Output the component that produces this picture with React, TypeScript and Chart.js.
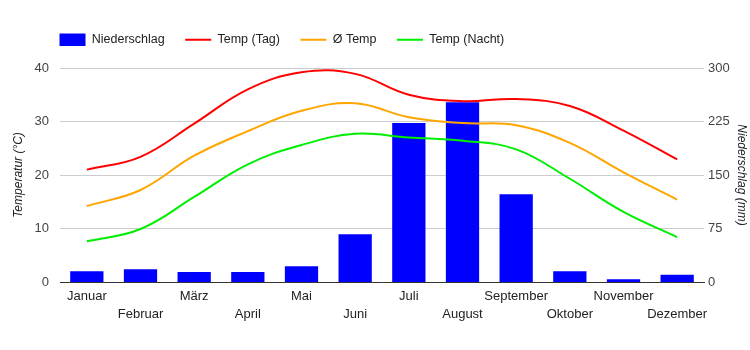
import React, { useEffect, useRef } from 'react';
import { Chart, registerables } from 'chart.js';

Chart.register(...registerables);

const months = ['Januar', 'Februar', 'März', 'April', 'Mai', 'Juni', 'Juli', 'August', 'September', 'Oktober', 'November', 'Dezember'];
const precipitation = [15, 18, 14, 14, 22, 67, 223, 252, 123, 15, 4, 10];
const tempDay = [21, 23.4, 29.6, 36, 39.2, 38.9, 35, 33.8, 34.2, 32.9, 28.3, 22.9];
const tempAvg = [14.2, 17.2, 23.6, 28.2, 32, 33.4, 30.8, 29.7, 29.3, 26, 20.5, 15.4];
const tempNight = [7.6, 9.9, 15.9, 22, 25.6, 27.7, 27, 26.4, 24.8, 19.3, 13.1, 8.4];
const tempTicks = [0, 10, 20, 30, 40];
const rainTicks = [0, 75, 150, 225, 300];

const FONT = 'Arial, "Liberation Sans", sans-serif';

const legendShift = {
  id: 'legendShift',
  beforeLayout(chart: any) {
    const lg = chart.legend;
    if (lg && !lg._patched) {
      const orig = lg.fit.bind(lg);
      lg.fit = function () {
        orig();
        this.height += 12;
      };
      lg._patched = true;
    }
  },
  afterLayout(chart: any) {
    if (chart.legend) {
      chart.legend.left += 39;
    }
  },
};

export default function App() {
  const ref = useRef<HTMLCanvasElement | null>(null);

  useEffect(() => {
    if (!ref.current) return;
    Chart.defaults.font.family = FONT;
    const lineBase = {
      type: 'line' as const,
      yAxisID: 'y',
      borderWidth: 2,
      pointRadius: 0,
      tension: 0.4,
      fill: false,
      order: 0,
    };
    const chart = new Chart(ref.current, {
      type: 'bar',
      data: {
        labels: months,
        datasets: [
          {
            type: 'bar',
            label: 'Niederschlag',
            data: precipitation,
            backgroundColor: '#0000ff',
            borderWidth: 0,
            yAxisID: 'y1',
            barPercentage: 0.62,
            categoryPercentage: 1,
            order: 1,
          } as any,
          { ...lineBase, label: 'Temp (Tag)', data: tempDay, borderColor: '#ff0000', backgroundColor: '#ff0000' },
          { ...lineBase, label: 'Ø Temp', data: tempAvg, borderColor: '#ffa500', backgroundColor: '#ffa500' },
          { ...lineBase, label: 'Temp (Nacht)', data: tempNight, borderColor: '#00ee00', backgroundColor: '#00ee00' },
        ],
      },
      options: {
        animation: false,
        responsive: true,
        maintainAspectRatio: false,
        layout: { padding: { top: 13, left: 0, right: 0, bottom: 0 } },
        plugins: {
          tooltip: { enabled: false },
          legend: {
            position: 'top',
            align: 'start',
            labels: {
              usePointStyle: true,
              pointStyleWidth: 26,
              boxHeight: 13,
              padding: 20.5,
              color: '#222',
              font: { size: 12.5, family: FONT },
              generateLabels(chart: any) {
                return chart.data.datasets.map((ds: any, i: number) => ({
                  text: ds.label,
                  fillStyle: ds.type === 'bar' ? ds.backgroundColor : ds.borderColor,
                  strokeStyle: ds.type === 'bar' ? ds.backgroundColor : ds.borderColor,
                  lineWidth: ds.type === 'bar' ? 0 : 2,
                  pointStyle: ds.type === 'bar' ? 'rect' : 'line',
                  hidden: false,
                  datasetIndex: i,
                  fontColor: '#222',
                }));
              },
            },
          },
        },
        scales: {
          x: {
            grid: { display: false, drawTicks: false },
            border: { display: true, color: '#333', width: 1 },
            ticks: {
              autoSkip: false,
              maxRotation: 0,
              minRotation: 0,
              padding: 5,
              color: '#222',
              font: { size: 13, family: FONT, lineHeight: '18px' } as any,
              callback: (_v: any, i: number) => (i % 2 === 0 ? months[i] : ['', months[i]]),
            },
            afterFit: (s: any) => { s.height = 68; },
          },
          y: {
            position: 'left',
            min: 0,
            max: 40,
            afterBuildTicks: (s: any) => { s.ticks = tempTicks.map((v) => ({ value: v })); },
            grid: { color: '#cccccc', drawTicks: false },
            border: { display: false },
            ticks: { padding: 11, color: '#444', font: { size: 13, family: FONT } },
            title: {
              display: true,
              text: 'Temperatur (°C)',
              color: '#222',
              font: { size: 12, style: 'italic', family: FONT },
              padding: { top: 11, bottom: 0 },
            },
            afterFit: (s: any) => { s.width = 60; },
          },
          y1: {
            position: 'right',
            min: 0,
            max: 300,
            afterBuildTicks: (s: any) => { s.ticks = rainTicks.map((v) => ({ value: v })); },
            grid: { display: false, drawTicks: false },
            border: { display: false },
            ticks: { padding: 4, color: '#444', font: { size: 13, family: FONT } },
            title: {
              display: true,
              text: 'Niederschlag (mm)',
              color: '#222',
              font: { size: 12, style: 'italic', family: FONT },
              padding: { top: 1, bottom: 0 },
            },
            afterFit: (s: any) => { s.width = 46; },
          },
        },
      } as any,
      plugins: [legendShift],
    });
    return () => chart.destroy();
  }, []);

  return (
    <div style={{ position: 'fixed', left: 0, top: 0, width: 750, height: 350, background: '#fff' }}>
      <canvas ref={ref} />
    </div>
  );
}
